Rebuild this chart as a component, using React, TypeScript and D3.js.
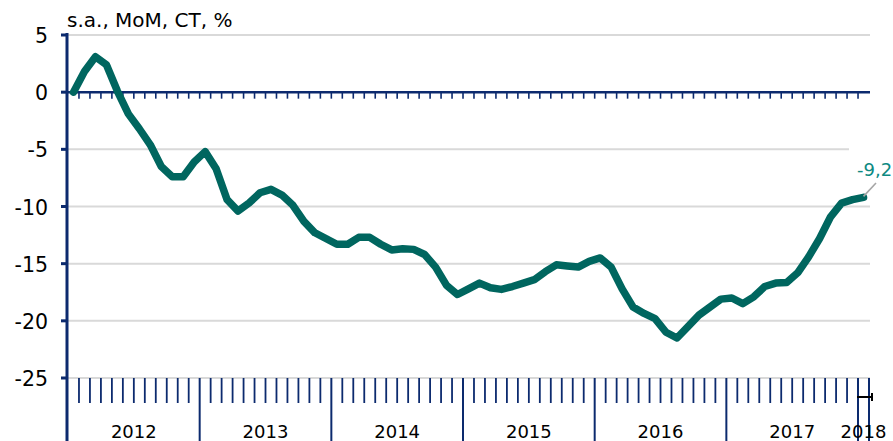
import React from 'react';
import * as d3 from 'd3';

// monthly values, Jan 2012 .. Jan 2018
const values = [
  0.0, 1.8, 3.1, 2.4, 0.1, -1.9, -3.2, -4.6, -6.5, -7.4, -7.4, -6.1,
  -5.2, -6.7, -9.4, -10.4, -9.7, -8.8, -8.5, -9.0, -9.9, -11.3, -12.3, -12.8,
  -13.3, -13.3, -12.7, -12.7, -13.3, -13.8, -13.7, -13.75, -14.2, -15.3, -16.9, -17.7,
  -17.2, -16.7, -17.1, -17.25, -17.0, -16.7, -16.4, -15.7, -15.1, -15.2, -15.3, -14.8,
  -14.5, -15.3, -17.2, -18.8, -19.35, -19.8, -21.0, -21.5, -20.5, -19.5, -18.8, -18.1,
  -18.0, -18.5, -17.9, -17.0, -16.7, -16.65, -15.8, -14.4, -12.8, -10.9, -9.7, -9.4,
  -9.2,
];
const years = ['2012', '2013', '2014', '2015', '2016', '2017', '2018'];
const months = d3.range(values.length).map((i) => `${years[Math.floor(i / 12)]}-${(i % 12) + 1}`);
const yTicks = [5, 0, -5, -10, -15, -20, -25];
const unitLabel = 's.a., MoM, CT, %';
const lastLabel = '-9,2';

const W = 893;
const H = 441;
const navy = '#0c2a6e';
const teal = '#00665f';

export default function App() {
  const x = d3.scaleBand<string>().domain(months).range([68, 869]).padding(0);
  const y = d3.scaleLinear().domain([-25, 5]).range([378, 35]);
  const step = x.step();

  const line = d3
    .line<number>()
    .x((_d, i) => (x(months[i]) as number) + step / 2)
    .y((d) => y(d));

  // month boundaries (index k = left edge of month k), plus the right end
  const bounds = d3.range(values.length + 1).map((k) => 68 + k * step);
  const yearStarts = years.map((_yr, j) => j * 12);

  const last = values.length - 1;
  const lx = (x(months[last]) as number) + step / 2;
  const ly = y(values[last]);

  return (
    <svg
      width={W}
      height={H}
      style={{ position: 'absolute', left: 0, top: 0, background: '#fff' }}
      fontFamily="DejaVu Sans, Verdana, sans-serif"
    >
      {/* gridlines */}
      {yTicks.filter((t) => t !== 0).map((t) => (
        <line key={t} x1={68} x2={870} y1={y(t)} y2={y(t)} stroke="#d9d9d9" strokeWidth={2} />
      ))}

      {/* zero line with month ticks */}
      <line x1={68} x2={870} y1={y(0)} y2={y(0)} stroke={navy} strokeWidth={2.5} />
      {bounds.slice(1, -1).map((bx, k) => (
        <line key={k} x1={bx} x2={bx} y1={y(0)} y2={y(0) + 6.5} stroke={navy} strokeWidth={1.6} />
      ))}

      {/* bottom category axis */}
      {bounds.map((bx, k) => {
        const isYear = k % 12 === 0 || k === bounds.length - 1;
        if (k === 0) return null;
        return (
          <line
            key={k}
            x1={bx}
            x2={bx}
            y1={y(-25)}
            y2={isYear ? H : 403}
            stroke={navy}
            strokeWidth={isYear ? 2 : 1.8}
          />
        );
      })}
      {years.map((yr, j) => {
        const s = yearStarts[j];
        const e = Math.min(s + 12, values.length);
        const cx = 68 + ((s + e) / 2) * step;
        return (
          <text key={yr} x={cx} y={438} textAnchor="middle" fontSize={18} fill="#000">
            {yr}
          </text>
        );
      })}
      {/* small bracket under the last month */}
      <g stroke="#000" strokeWidth={2}>
        <line x1={bounds[last] - 1} x2={bounds[last + 1] + 3} y1={397} y2={397} />
        <line x1={bounds[last + 1] + 3} x2={bounds[last + 1] + 3} y1={393} y2={401} />
      </g>

      {/* y axis */}
      <line x1={67} x2={67} y1={33} y2={H} stroke={navy} strokeWidth={3} />
      {yTicks.map((t) => (
        <g key={t}>
          <line x1={61} x2={67} y1={y(t)} y2={y(t)} stroke={navy} strokeWidth={3} />
          <text x={48} y={y(t) + 8} textAnchor="end" fontSize={20.5} fill="#000">
            {t}
          </text>
        </g>
      ))}
      <text x={67} y={27} fontSize={20} fill="#000">
        {unitLabel}
      </text>

      {/* series */}
      <path
        d={line(values) ?? ''}
        fill="none"
        stroke={teal}
        strokeWidth={7.5}
        strokeLinejoin="round"
        strokeLinecap="round"
      />

      {/* last value label */}
      <rect x={849} y={144} width={44} height={34} fill="#fff" />
      <line x1={lx} y1={ly - 1} x2={876} y2={183} stroke="#a6a6a6" strokeWidth={1.6} />
      <text x={857} y={176} fontSize={18} fill="#0e8a82">
        {lastLabel}
      </text>
    </svg>
  );
}
